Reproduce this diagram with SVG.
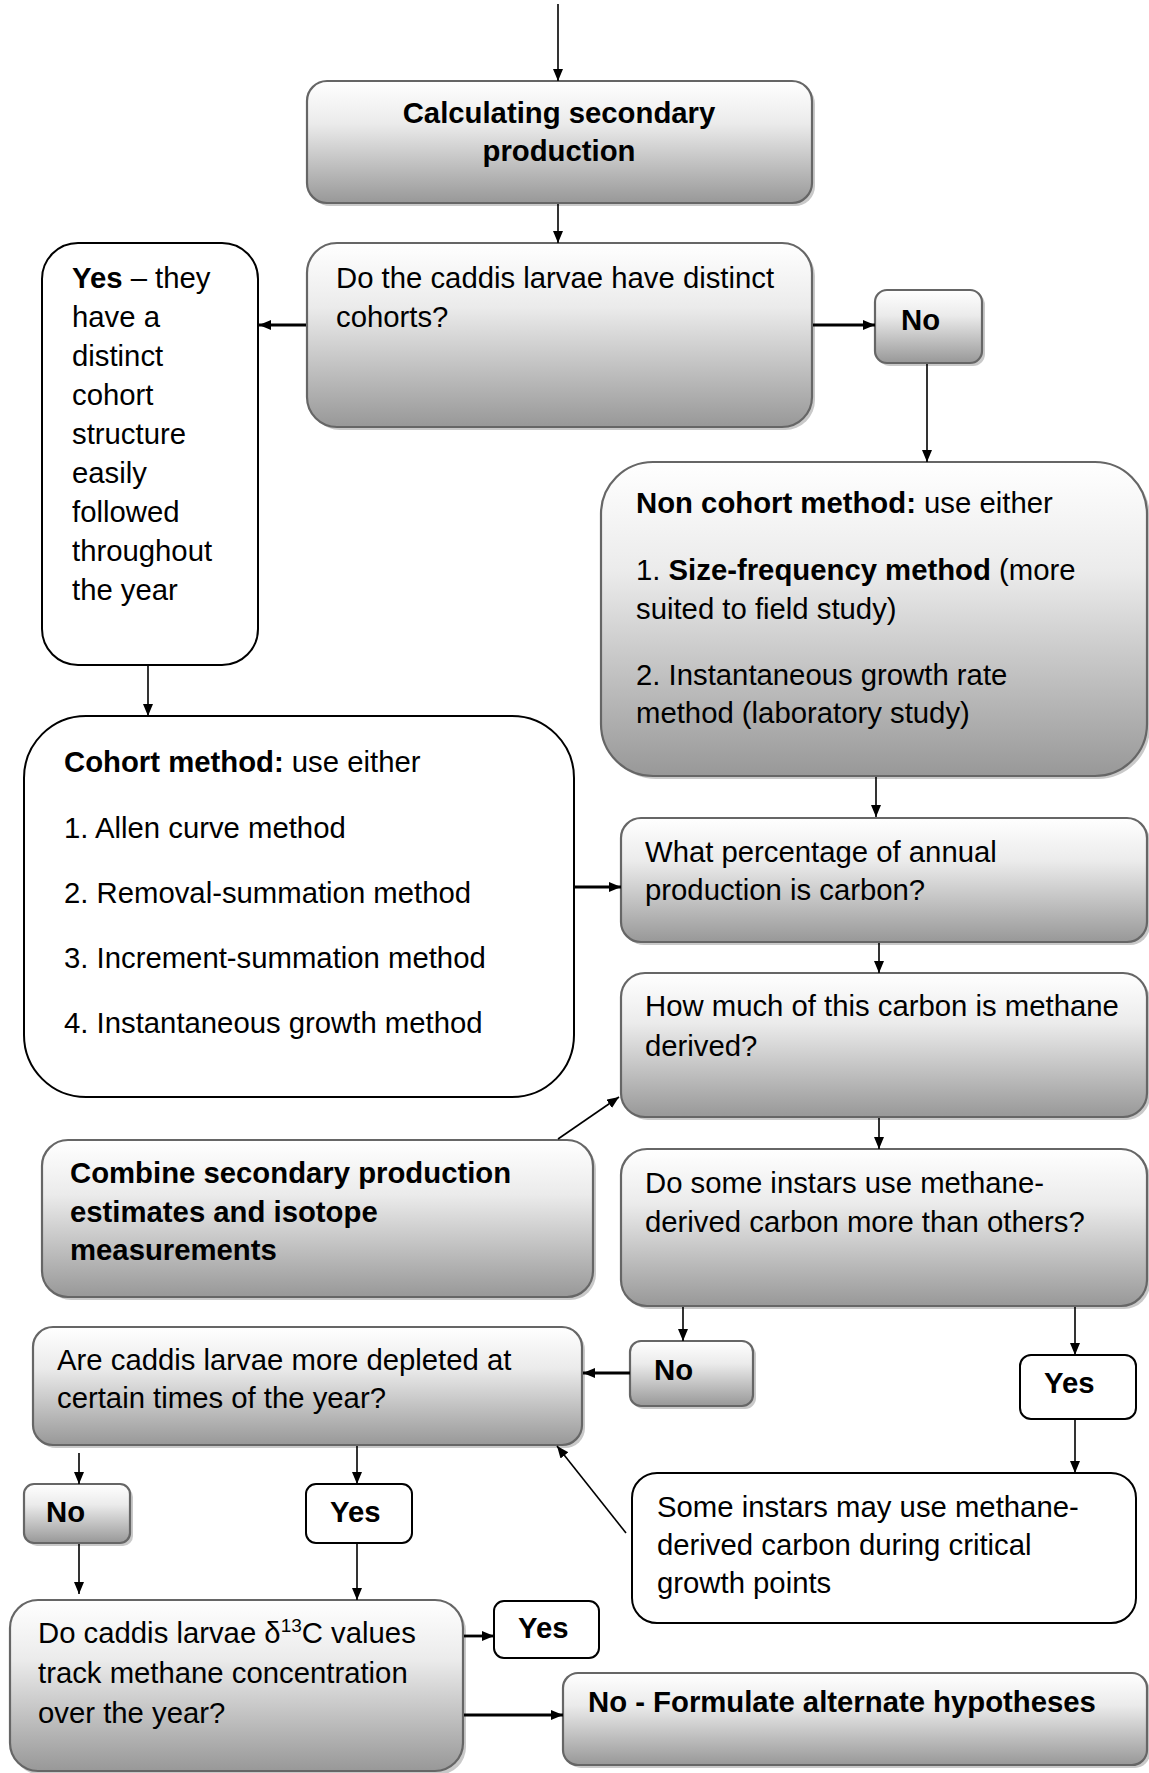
<svg xmlns="http://www.w3.org/2000/svg" width="1149" height="1773" viewBox="0 0 1149 1773">
<defs>
<linearGradient id="g" x1="0" y1="0" x2="0" y2="1">
<stop offset="0" stop-color="#ffffff"/>
<stop offset="0.35" stop-color="#ebebeb"/>
<stop offset="1" stop-color="#989898"/>
</linearGradient>
<marker id="ah" markerUnits="userSpaceOnUse" markerWidth="13" markerHeight="11" refX="12" refY="5" orient="auto">
<path d="M0,0 L12,5 L0,10 z" fill="#000"/>
</marker>
</defs>
<style>
.gb{fill:url(#g);stroke:#666;stroke-width:2.2}
.sh{fill:#c9c9c9;stroke:none}
.wb{fill:#fff;stroke:#000;stroke-width:2}
text{font-family:"Liberation Sans",Arial,sans-serif;font-size:29.3px;fill:#000}
.b{font-weight:bold}
.c line{stroke:#000;stroke-width:1.6;marker-end:url(#ah)}
.c line.t{stroke-width:2.8}
</style>
<rect width="1149" height="1773" fill="#fff"/>

<g id="n1">
<rect class="sh" x="310" y="84" width="505" height="122" rx="20"/>
<rect class="gb" x="307" y="81" width="505" height="122" rx="20"/>
<text class="b" text-anchor="middle"><tspan x="559" y="123">Calculating secondary</tspan><tspan x="559" y="161">production</tspan></text>
</g>

<g id="n2">
<rect class="sh" x="310" y="246" width="505" height="184" rx="30"/>
<rect class="gb" x="307" y="243" width="505" height="184" rx="30"/>
<text><tspan x="336" y="288">Do the caddis larvae have distinct</tspan><tspan x="336" y="327">cohorts?</tspan></text>
</g>

<g id="n3">
<rect class="wb" x="42" y="243" width="216" height="422" rx="36"/>
<text><tspan x="72" y="288"><tspan class="b">Yes</tspan> – they</tspan><tspan x="72" y="327">have a</tspan><tspan x="72" y="366">distinct</tspan><tspan x="72" y="405">cohort</tspan><tspan x="72" y="444">structure</tspan><tspan x="72" y="483">easily</tspan><tspan x="72" y="522">followed</tspan><tspan x="72" y="561">throughout</tspan><tspan x="72" y="600">the year</tspan></text>
</g>

<g id="n4">
<rect class="sh" x="878" y="293" width="107" height="73" rx="12"/>
<rect class="gb" x="875" y="290" width="107" height="73" rx="12"/>
<text class="b" x="901" y="330">No</text>
</g>

<g id="n5">
<rect class="sh" x="604" y="465" width="546" height="314" rx="52"/>
<rect class="gb" x="601" y="462" width="546" height="314" rx="52"/>
<text><tspan x="636" y="513"><tspan class="b">Non cohort method:</tspan> use either</tspan><tspan x="636" y="580">1. <tspan class="b">Size-frequency method</tspan> (more</tspan><tspan x="636" y="619">suited to field study)</tspan><tspan x="636" y="685">2. Instantaneous growth rate</tspan><tspan x="636" y="723">method (laboratory study)</tspan></text>
</g>

<g id="n6">
<rect class="wb" x="24" y="716" width="550" height="381" rx="62"/>
<text><tspan x="64" y="772"><tspan class="b">Cohort method:</tspan> use either</tspan><tspan x="64" y="838">1. Allen curve method</tspan><tspan x="64" y="903">2. Removal-summation method</tspan><tspan x="64" y="968">3. Increment-summation method</tspan><tspan x="64" y="1033">4. Instantaneous growth method</tspan></text>
</g>

<g id="n7">
<rect class="sh" x="624" y="821" width="526" height="124" rx="20"/>
<rect class="gb" x="621" y="818" width="526" height="124" rx="20"/>
<text><tspan x="645" y="862">What percentage of annual</tspan><tspan x="645" y="900">production is carbon?</tspan></text>
</g>

<g id="n8">
<rect class="sh" x="624" y="976" width="526" height="144" rx="24"/>
<rect class="gb" x="621" y="973" width="526" height="144" rx="24"/>
<text><tspan x="645" y="1016">How much of this carbon is methane</tspan><tspan x="645" y="1056">derived?</tspan></text>
</g>

<g id="n9">
<rect class="sh" x="624" y="1152" width="526" height="157" rx="26"/>
<rect class="gb" x="621" y="1149" width="526" height="157" rx="26"/>
<text><tspan x="645" y="1193">Do some instars use methane-</tspan><tspan x="645" y="1232">derived carbon more than others?</tspan></text>
</g>

<g id="n10">
<rect class="sh" x="45" y="1143" width="551" height="157" rx="26"/>
<rect class="gb" x="42" y="1140" width="551" height="157" rx="26"/>
<text class="b"><tspan x="70" y="1183">Combine secondary production</tspan><tspan x="70" y="1222">estimates and isotope</tspan><tspan x="70" y="1260">measurements</tspan></text>
</g>

<g id="n11">
<rect class="sh" x="36" y="1330" width="549" height="118" rx="20"/>
<rect class="gb" x="33" y="1327" width="549" height="118" rx="20"/>
<text><tspan x="57" y="1370">Are caddis larvae more depleted at</tspan><tspan x="57" y="1408">certain times of the year?</tspan></text>
</g>

<g id="n12">
<rect class="sh" x="633" y="1344" width="123" height="65" rx="11"/>
<rect class="gb" x="630" y="1341" width="123" height="65" rx="11"/>
<text class="b" x="654" y="1380">No</text>
</g>

<g id="n13">
<rect class="wb" x="1020" y="1355" width="116" height="64" rx="11"/>
<text class="b" x="1044" y="1393">Yes</text>
</g>

<g id="n14">
<rect class="wb" x="632" y="1473" width="504" height="150" rx="25"/>
<text><tspan x="657" y="1517">Some instars may use methane-</tspan><tspan x="657" y="1555">derived carbon during critical</tspan><tspan x="657" y="1593">growth points</tspan></text>
</g>

<g id="n15">
<rect class="sh" x="27" y="1487" width="106" height="59" rx="10"/>
<rect class="gb" x="24" y="1484" width="106" height="59" rx="10"/>
<text class="b" x="46" y="1522">No</text>
</g>

<g id="n16">
<rect class="wb" x="306" y="1484" width="106" height="59" rx="10"/>
<text class="b" x="330" y="1522">Yes</text>
</g>

<g id="n17">
<rect class="sh" x="13" y="1603" width="453" height="172" rx="28"/>
<rect class="gb" x="10" y="1600" width="453" height="171" rx="28"/>
<text><tspan x="38" y="1643">Do caddis larvae δ<tspan font-size="19" dy="-11">13</tspan><tspan dy="11">C values</tspan></tspan><tspan x="38" y="1683">track methane concentration</tspan><tspan x="38" y="1723">over the year?</tspan></text>
</g>

<g id="n18">
<rect class="wb" x="494" y="1601" width="105" height="57" rx="10"/>
<text class="b" x="518" y="1638">Yes</text>
</g>

<g id="n19">
<rect class="sh" x="566" y="1676" width="584" height="92" rx="15"/>
<rect class="gb" x="563" y="1673" width="584" height="92" rx="15"/>
<text class="b" x="588" y="1712">No - Formulate alternate hypotheses</text>
</g>

<g id="connectors" class="c">
<line x1="558" y1="4" x2="558" y2="81"/>
<line x1="558" y1="204" x2="558" y2="243"/>
<line class="t" x1="306" y1="325" x2="259" y2="325"/>
<line class="t" x1="813" y1="325" x2="875" y2="325"/>
<line x1="927" y1="364" x2="927" y2="462"/>
<line x1="148" y1="666" x2="148" y2="716"/>
<line x1="876" y1="777" x2="876" y2="817"/>
<line class="t" x1="575" y1="887" x2="621" y2="887"/>
<line x1="879" y1="943" x2="879" y2="973"/>
<line x1="879" y1="1118" x2="879" y2="1149"/>
<line x1="558" y1="1139" x2="619" y2="1097"/>
<line x1="683" y1="1307" x2="683" y2="1341"/>
<line x1="1075" y1="1307" x2="1075" y2="1355"/>
<line class="t" x1="630" y1="1373" x2="583" y2="1373"/>
<line x1="1075" y1="1420" x2="1075" y2="1473"/>
<line x1="626" y1="1533" x2="557" y2="1446"/>
<line x1="79" y1="1453" x2="79" y2="1484"/>
<line x1="357" y1="1446" x2="357" y2="1484"/>
<line x1="79" y1="1544" x2="79" y2="1594"/>
<line x1="357" y1="1544" x2="357" y2="1600"/>
<line class="t" x1="464" y1="1636" x2="494" y2="1636"/>
<line class="t" x1="464" y1="1715" x2="563" y2="1715"/>
</g>
</svg>
